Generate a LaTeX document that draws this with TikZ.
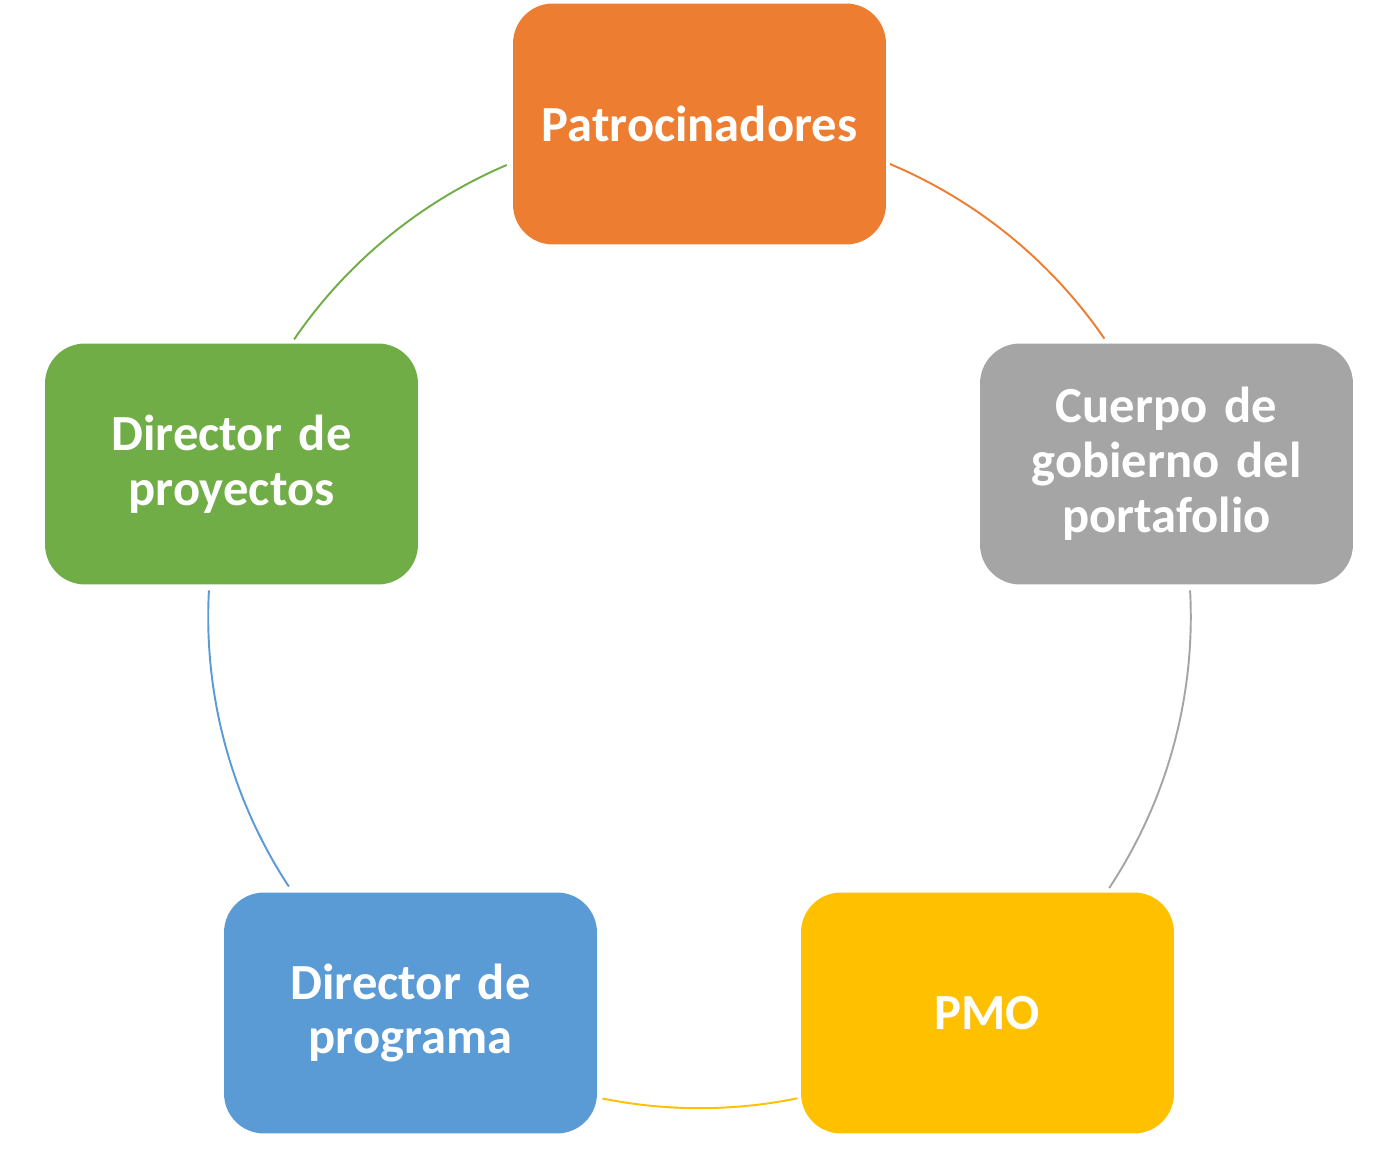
\documentclass[tikz,border=0pt]{standalone}
\usepackage{fontspec}
\setmainfont{Carlito}
\usetikzlibrary{calc}
\definecolor{cOrange}{HTML}{ED7D31}
\definecolor{cGray}{HTML}{A5A5A5}
\definecolor{cYellow}{HTML}{FFC000}
\definecolor{cBlue}{HTML}{5B9BD5}
\definecolor{cGreen}{HTML}{70AD47}
\begin{document}
\begin{tikzpicture}[x=0.02cm,y=0.02cm,
  role/.style={rectangle, rounded corners=0.8cm, minimum width=7.46cm, minimum height=4.82cm,
    inner sep=0pt, text width=6.8cm, align=center, text=white,
    font=\fontsize{28.8}{31.2}\selectfont\bfseries},
  ring/.style={line width=1.1pt}]
\useasboundingbox (0,0) rectangle (1397,1153);
\coordinate (c) at (699.5,536.1);
\node[role, fill=cOrange] (patro) at (699.5,1029) {Patrocinadores};
\node[role, fill=cGray] (cuerpo) at (1166.5,689) {Cuerpo de\\gobierno del\\portafolio};
\node[role, fill=cYellow] (pmo) at (987.5,140) {PMO};
\node[role, fill=cBlue] (prog) at (410.5,140) {Director de\\programa};
\node[role, fill=cGreen] (proy) at (231.5,689) {Director de\\proyectos};
\coordinate (a1) at ($(c)+(67.2:9.828cm)$);
\coordinate (a2) at ($(c)+(3.1:9.828cm)$);
\coordinate (a3) at ($(c)+(-78.5:9.828cm)$);
\coordinate (a4) at ($(c)+(213.3:9.828cm)$);
\coordinate (a5) at ($(c)+(145.6:9.828cm)$);
\draw[ring, cOrange] (a1) arc[start angle=67.2, end angle=34.5, radius=9.828cm];
\draw[ring, cGray] (a2) arc[start angle=3.1, end angle=-33.5, radius=9.828cm];
\draw[ring, cYellow] (a3) arc[start angle=-78.5, end angle=-101.4, radius=9.828cm];
\draw[ring, cBlue] (a4) arc[start angle=213.3, end angle=176.9, radius=9.828cm];
\draw[ring, cGreen] (a5) arc[start angle=145.6, end angle=113.1, radius=9.828cm];
\end{tikzpicture}
\end{document}
